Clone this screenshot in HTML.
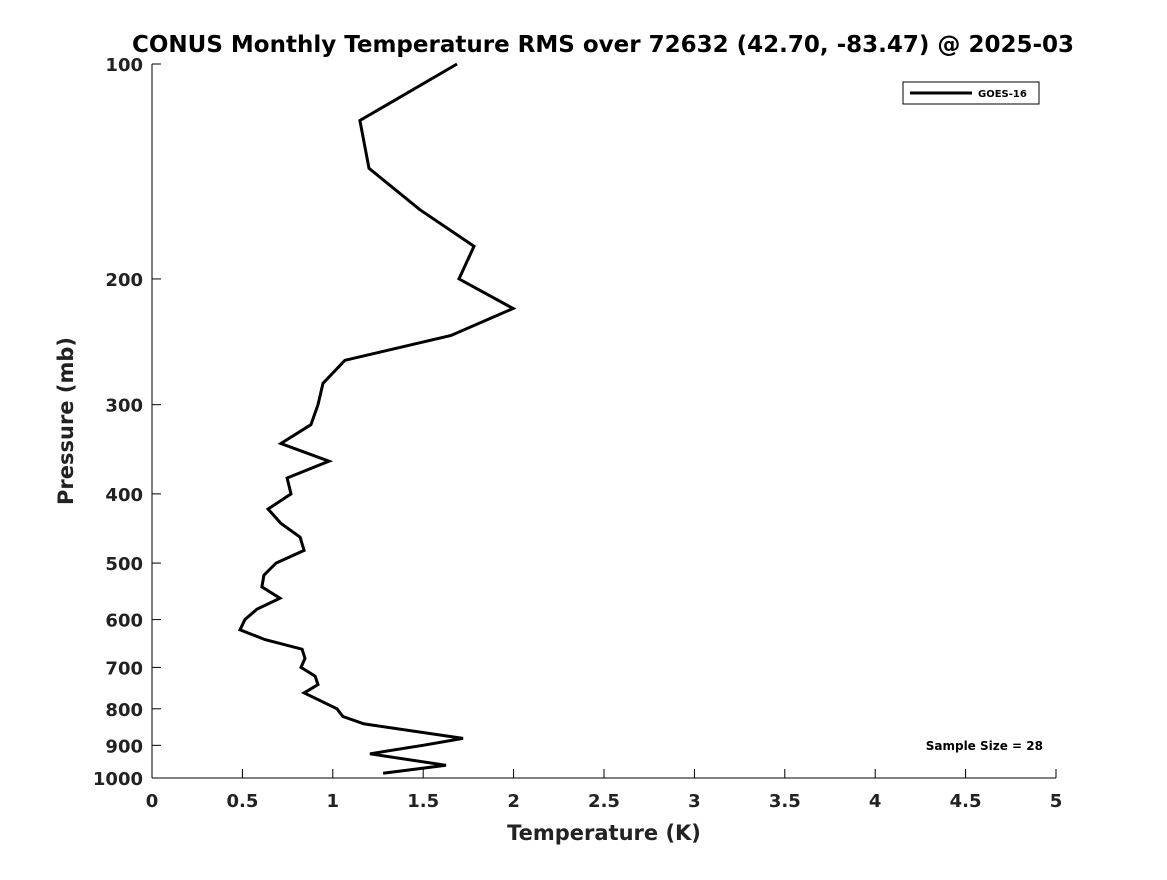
<!DOCTYPE html>
<html><head><meta charset="utf-8"><style>
body{margin:0;background:#fff;}
svg text{font-family:"DejaVu Sans","Liberation Sans",sans-serif;font-weight:bold;fill:#222;}
</style></head><body>
<svg id="chart" width="1167" height="875" xmlns="http://www.w3.org/2000/svg">
<rect width="1167" height="875" fill="#fff"/>
<text x="603" y="52" text-anchor="middle" font-size="23" style="fill:#000">CONUS Monthly Temperature RMS over 72632 (42.70, -83.47) @ 2025-03</text>
<g id="axes"></g>
<path id="series" fill="none" stroke="#000" stroke-width="3" stroke-linejoin="miter"/>
<g>
<rect x="903" y="82" width="136" height="22" fill="#fff" stroke="#000" stroke-width="1"/>
<line x1="910" y1="93" x2="972" y2="93" stroke="#000" stroke-width="3"/>
<text x="978" y="97" font-size="10" style="fill:#000">GOES-16</text>
</g>
<text x="1043" y="750" text-anchor="end" font-size="12" style="fill:#000">Sample Size = 28</text>
<text x="604" y="840" text-anchor="middle" font-size="21">Temperature (K)</text>
<text transform="translate(73,421) rotate(-90)" text-anchor="middle" font-size="21">Pressure (mb)</text>
</svg>
<script>
const temps=[1.687,1.150,1.200,1.482,1.781,1.698,1.997,1.654,1.067,0.946,0.918,0.879,0.713,0.979,0.747,0.769,0.642,0.713,0.819,0.841,0.686,0.619,0.608,0.708,0.581,0.514,0.487,0.625,0.830,0.846,0.824,0.902,0.918,0.841,1.023,1.056,1.173,1.720,1.499,1.206,1.626,1.278];
const pressures=[100,120,140,160,180,200,220,240,260,280,300,320,340,360,380,400,420,440,460,480,500,520,540,560,580,600,620,640,660,680,700,720,740,760,800,820,840,880,900,925,960,985];
const xTicks=[0,0.5,1,1.5,2,2.5,3,3.5,4,4.5,5];
const xTickLabels=["0","0.5","1","1.5","2","2.5","3","3.5","4","4.5","5"];
const yTicks=[100,200,300,400,500,600,700,800,900,1000];
const yTickLabels=["100","200","300","400","500","600","700","800","900","1000"];
const X0=152,X1=1056,Y0=64,Y1=778;
function xs(v){return X0+(v-0)/(5-0)*(X1-X0);}
function ys(p){return Y0+Math.log10(p/100)*(Y1-Y0);}
const ns="http://www.w3.org/2000/svg";
const ax=document.getElementById('axes');
function mk(t,a){const e=document.createElementNS(ns,t);for(const k in a)e.setAttribute(k,a[k]);ax.appendChild(e);return e;}
let l=mk('line',{x1:X0,y1:Y0,x2:X0,y2:Y1,stroke:'#000','stroke-width':1});


l=mk('line',{x1:X0,y1:Y1,x2:X1,y2:Y1,stroke:'#000','stroke-width':1});


xTicks.forEach((v,i)=>{const x=xs(v);
 const t=mk('line',{x1:x,y1:Y1,x2:x,y2:Y1-9,stroke:'#000'});
 
 
 const tx=mk('text',{x:x,y:807,'text-anchor':'middle','font-size':18});tx.textContent=xTickLabels[i];
 
 
});
yTicks.forEach((p,i)=>{const y=ys(p);
 const t=mk('line',{x1:X0,y1:y,x2:X0+9,y2:y,stroke:'#000'});
 
 
 const tx=mk('text',{x:143,y:y+7,'text-anchor':'end','font-size':18});tx.textContent=yTickLabels[i];
 
 
});
document.getElementById('series').setAttribute('d',temps.map((t,i)=>(i?'L':'M')+xs(t).toFixed(1)+' '+ys(pressures[i]).toFixed(1)).join(' '));
</script>
</body></html>
